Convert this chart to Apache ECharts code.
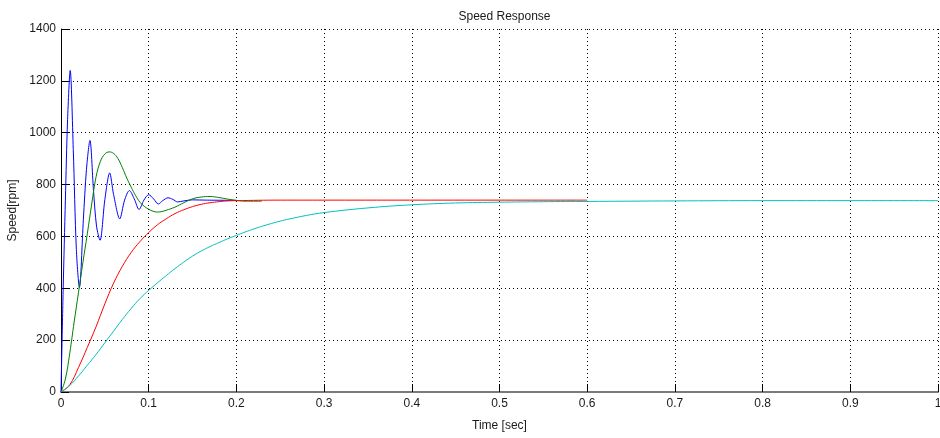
<!DOCTYPE html>
<html>
<head>
<meta charset="utf-8">
<script src="https://cdn.jsdelivr.net/npm/echarts@6/dist/echarts.min.js"></script>
<style>
html,body{margin:0;padding:0;background:#fff;}
#chart{width:940px;height:438px;}
</style>
</head>
<body>
<div id="chart"></div>
<script>
// ---- data ----
const titleText = 'Speed Response';
const xAxisName = 'Time [sec]';
const yAxisName = 'Speed[rpm]';

const blueTime  = [0, 0.0025, 0.005, 0.0075, 0.0105, 0.014, 0.0175, 0.021, 0.0255, 0.029, 0.033, 0.037, 0.0405, 0.0445, 0.05, 0.0555, 0.06, 0.067, 0.0725, 0.078, 0.0835, 0.089, 0.0945, 0.1, 0.1055, 0.111, 0.116, 0.122, 0.1275, 0.133, 0.14, 0.15, 0.165, 0.2];
const blueSpeed = [0, 400, 740, 1050, 1240, 935, 550, 403, 665, 857, 970, 780, 640, 585, 742, 845, 761, 668, 740, 777, 745, 704, 740, 761, 745, 725, 738, 749, 743, 733, 737, 741, 740, 739];

const greenTime  = [0, 0.005, 0.01, 0.015, 0.02, 0.025, 0.03, 0.035, 0.04, 0.045, 0.05, 0.055, 0.06, 0.065, 0.07, 0.075, 0.08, 0.085, 0.09, 0.095, 0.1, 0.105, 0.11, 0.115, 0.12, 0.13, 0.14, 0.15, 0.16, 0.17, 0.18, 0.19, 0.2, 0.21, 0.229];
const greenSpeed = [0, 50, 150, 270, 385, 500, 610, 725, 830, 890, 918, 926, 920, 900, 865, 825, 790, 758, 732, 716, 705, 697, 694, 696, 701, 713, 730, 745, 752, 754, 750, 744, 739, 736, 736];

const redTime  = [0, 0.01, 0.02, 0.03, 0.04, 0.05, 0.06, 0.07, 0.08, 0.09, 0.1, 0.11, 0.12, 0.13, 0.14, 0.15, 0.16, 0.17, 0.18, 0.19, 0.2, 0.25, 0.3, 0.6];
const redSpeed = [0, 28, 95, 172, 252, 340, 420, 485, 538, 580, 615, 645, 668, 688, 703, 715, 724, 730, 734, 737, 738, 740, 740, 740];

const cyanTime  = [0, 0.01, 0.02, 0.03, 0.04, 0.05, 0.06, 0.07, 0.08, 0.09, 0.1, 0.11, 0.12, 0.13, 0.14, 0.15, 0.16, 0.17, 0.18, 0.19, 0.2, 0.21, 0.22, 0.23, 0.24, 0.25, 0.26, 0.28, 0.3, 0.35, 0.4, 0.45, 0.5, 0.55, 0.6, 0.7, 0.8, 0.9, 1.0];
const cyanSpeed = [0, 25, 62, 103, 145, 190, 235, 280, 322, 360, 392, 421, 449, 476, 501, 524, 544, 561, 576, 591, 604, 617, 629, 640, 650, 659, 667, 681, 692, 710, 722, 729, 732, 734, 735, 737, 738, 738, 738];

const xMin = 0, xMax = 1, xStep = 0.1;
const yMin = 0, yMax = 1400, yStep = 200;

function zip(t, v) { return t.map((x, i) => [x, v[i]]); }

const textColor = '#1a1a1a';
const fontFamily = 'Liberation Sans, Arial, sans-serif';

const chart = echarts.init(document.getElementById('chart'), null, {renderer: 'canvas'});

function lineSeries(name, t, v, color, smooth) {
  return {
    name: name,
    type: 'line',
    data: zip(t, v),
    showSymbol: false,
    symbol: 'none',
    smooth: smooth,
    lineStyle: {color: color, width: 1},
    itemStyle: {color: color},
    clip: true,
    silent: true
  };
}

chart.setOption({
  animation: false,
  backgroundColor: '#ffffff',
  title: {
    text: titleText,
    left: 499.5,
    textAlign: 'center',
    top: 6,
    textStyle: {fontSize: 12, fontWeight: 'normal', color: textColor, fontFamily: fontFamily}
  },
  grid: {left: 61, right: 2, top: 29, bottom: 46, containLabel: false, outerBoundsMode: 'none'},
  xAxis: {
    type: 'value',
    min: xMin, max: xMax, interval: xStep,
    name: xAxisName,
    nameLocation: 'middle',
    nameGap: 28,
    nameTextStyle: {fontSize: 12, color: textColor, fontFamily: fontFamily},
    axisLine: {show: true, onZero: false, lineStyle: {color: '#7a7a7a', width: 2}},
    axisTick: {show: true, inside: true, length: 8, lineStyle: {color: '#000', width: 1}},
    axisLabel: {margin: 6, fontSize: 12, color: textColor, fontFamily: fontFamily},
    splitLine: {show: true, lineStyle: {color: '#000', width: 1, type: [1, 3]}}
  },
  yAxis: {
    type: 'value',
    min: yMin, max: yMax, interval: yStep,
    name: yAxisName,
    nameLocation: 'middle',
    nameGap: 37,
    nameRotate: 90,
    nameTextStyle: {fontSize: 12, color: textColor, fontFamily: fontFamily},
    axisLine: {show: true, onZero: false, lineStyle: {color: '#000', width: 1}},
    axisTick: {show: true, inside: true, length: 8, lineStyle: {color: '#000', width: 1}},
    axisLabel: {margin: 5, fontSize: 12, color: textColor, fontFamily: fontFamily, formatter: function (v) { return String(v); }},
    splitLine: {show: true, lineStyle: {color: '#000', width: 1, type: [1, 3]}}
  },
  series: [
    lineSeries('blue', blueTime, blueSpeed, '#0000ff', 0.3),
    lineSeries('green', greenTime, greenSpeed, '#008000', 0.4),
    lineSeries('red', redTime, redSpeed, '#ff0000', 0.4),
    lineSeries('cyan', cyanTime, cyanSpeed, '#00bfbf', 0.4)
  ]
});
</script>
</body>
</html>
